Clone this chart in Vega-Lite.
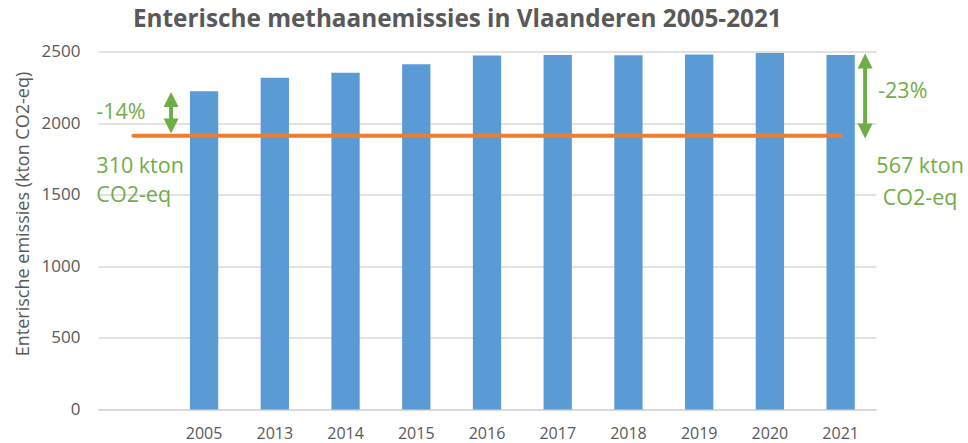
{
  "$schema": "https://vega.github.io/schema/vega-lite/v6.json",
  "width": 778,
  "height": 358,
  "autosize": "none",
  "padding": {"left": 98, "top": 51.5, "right": 92, "bottom": 33.5},
  "config": {"view": {"stroke": null}, "font": "Open Sans"},
  "title": {
    "text": "Enterische methaanemissies in Vlaanderen 2005-2021",
    "anchor": "start",
    "frame": "group",
    "dx": 35,
    "offset": 10,
    "fontSize": 24.3,
    "fontWeight": "bold",
    "color": "#595959",
    "font": "Open Sans"
  },
  "datasets": {
    "emissies": [
      {"jaar": "2005", "waarde": 2223},
      {"jaar": "2013", "waarde": 2316},
      {"jaar": "2014", "waarde": 2351},
      {"jaar": "2015", "waarde": 2411},
      {"jaar": "2016", "waarde": 2472},
      {"jaar": "2017", "waarde": 2476},
      {"jaar": "2018", "waarde": 2474},
      {"jaar": "2019", "waarde": 2479},
      {"jaar": "2020", "waarde": 2490},
      {"jaar": "2021", "waarde": 2476}
    ],
    "doel": [
      {"jaar": "", "waarde": 1911},
      {"jaar": "2021", "waarde": 1911}
    ]
  },
  "encoding": {
    "x": {
      "field": "jaar",
      "type": "nominal",
      "sort": null,
      "scale": {
        "domain": ["", "2005", "2013", "2014", "2015", "2016", "2017", "2018", "2019", "2020", "2021"],
        "paddingInner": 0.6,
        "paddingOuter": 0.3
      },
      "axis": {
        "title": null,
        "labelAngle": 0,
        "ticks": false,
        "domainColor": "#d9d9d9",
        "domainWidth": 2,
        "labelColor": "#595959",
        "labelFontSize": 16,
        "labelPadding": 16,
        "grid": false
      }
    },
    "y": {
      "field": "waarde",
      "type": "quantitative",
      "title": "Enterische emissies (kton CO2-eq)",
      "scale": {"domain": [0, 2500], "nice": false},
      "axis": {
        "values": [0, 500, 1000, 1500, 2000, 2500],
        "format": "d",
        "ticks": false,
        "domain": false,
        "gridColor": "#d9d9d9",
        "gridWidth": 1.5,
        "labelColor": "#595959",
        "labelFontSize": 17,
        "labelPadding": 18,
        "titleFontSize": 18,
        "titleFontWeight": "normal",
        "titleColor": "#595959",
        "titlePadding": 9,
        "titleY": 162
      }
    }
  },
  "layer": [
    {
      "data": {"name": "emissies"},
      "mark": {"type": "bar", "color": "#5b9bd5"}
    },
    {
      "data": {"name": "doel"},
      "mark": {"type": "line", "color": "#ed7d31", "strokeWidth": 4, "strokeCap": "round"}
    },
    {
      "data": {"values": [{"jaar": "2005", "waarde": 2218, "onder": 1928}]},
      "layer": [
        {
          "mark": {"type": "rule", "color": "#70ad47", "strokeWidth": 4, "xOffset": -33, "yOffset": 8, "y2Offset": -8},
          "encoding": {"y2": {"field": "onder"}}
        },
        {
          "mark": {"type": "point", "shape": "M0,0L1,2L-1,2Z", "size": 225, "filled": true, "opacity": 1, "color": "#70ad47", "xOffset": -33}
        },
        {
          "mark": {"type": "point", "shape": "M0,0L1,-2L-1,-2Z", "size": 225, "filled": true, "opacity": 1, "color": "#70ad47", "xOffset": -33},
          "encoding": {"y": {"field": "onder", "type": "quantitative", "title": "Enterische emissies (kton CO2-eq)"}}
        }
      ]
    },
    {
      "data": {"values": [{"jaar": "2021", "waarde": 2486, "onder": 1893}]},
      "layer": [
        {
          "mark": {"type": "rule", "color": "#70ad47", "strokeWidth": 4, "xOffset": 24.5, "yOffset": 8, "y2Offset": -8},
          "encoding": {"y2": {"field": "onder"}}
        },
        {
          "mark": {"type": "point", "shape": "M0,0L1,2L-1,2Z", "size": 225, "filled": true, "opacity": 1, "color": "#70ad47", "xOffset": 24.5}
        },
        {
          "mark": {"type": "point", "shape": "M0,0L1,-2L-1,-2Z", "size": 225, "filled": true, "opacity": 1, "color": "#70ad47", "xOffset": 24.5},
          "encoding": {"y": {"field": "onder", "type": "quantitative", "title": "Enterische emissies (kton CO2-eq)"}}
        }
      ]
    },
    {
      "data": {"values": [
        {"jaar": "", "waarde": 2027, "tekst": "-14%"},
        {"jaar": "", "waarde": 1653, "tekst": "310 kton"},
        {"jaar": "", "waarde": 1448, "tekst": "CO2-eq"}
      ]},
      "mark": {"type": "text", "align": "left", "baseline": "alphabetic", "dx": -37, "fontSize": 21.5, "color": "#70ad47"},
      "encoding": {"text": {"field": "tekst"}}
    },
    {
      "data": {"values": [
        {"jaar": "2021", "waarde": 2172, "tekst": "-23%"}
      ]},
      "mark": {"type": "text", "align": "left", "baseline": "alphabetic", "dx": 37.5, "fontSize": 21.5, "color": "#70ad47"},
      "encoding": {"text": {"field": "tekst"}}
    },
    {
      "data": {"values": [
        {"jaar": "2021", "waarde": 1653, "tekst": "567 kton"},
        {"jaar": "2021", "waarde": 1427, "tekst": "CO2-eq"}
      ]},
      "mark": {"type": "text", "align": "center", "baseline": "alphabetic", "dx": 79.5, "fontSize": 21.5, "color": "#70ad47"},
      "encoding": {"text": {"field": "tekst"}}
    }
  ]
}
